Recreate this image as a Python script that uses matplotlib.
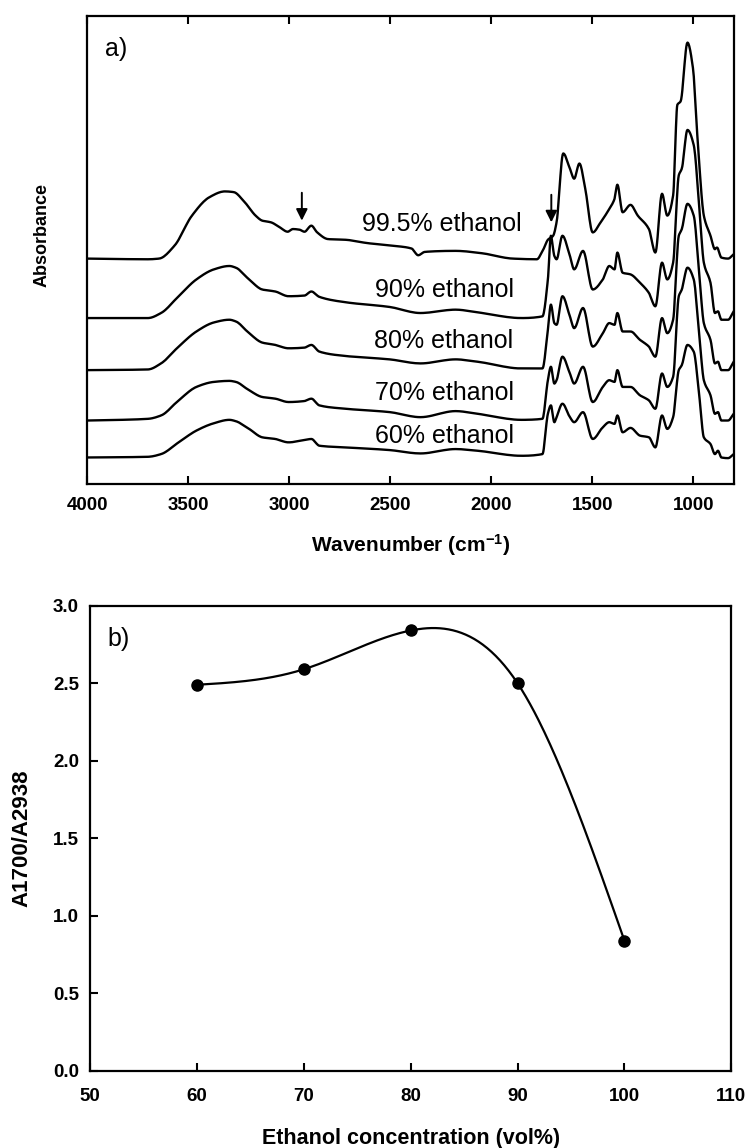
import numpy as np
import matplotlib
matplotlib.use("Agg")
from matplotlib import pyplot as plt

plt.rcParams['font.family'] = ['Liberation Sans', 'DejaVu Sans']
plt.rcParams['mathtext.fontset'] = 'custom'
plt.rcParams['mathtext.rm'] = 'Liberation Sans:bold'
plt.rcParams['mathtext.default'] = 'regular'

# ---- panel a: FTIR spectra (offset, arbitrary absorbance units) ----
wn_995 = [4000, 3700, 3645, 3569, 3482, 3395, 3319, 3276, 3221, 3167, 3134, 3091, 3047, 3008,
          2982, 2949, 2925, 2891, 2862, 2808, 2721, 2612, 2482, 2395, 2362, 2329, 2177, 2047,
          1894, 1775, 1742, 1720, 1694, 1677, 1644, 1611, 1590, 1564, 1535, 1498, 1459, 1416,
          1390, 1376, 1350, 1311, 1275, 1220, 1188, 1155, 1129, 1100, 1079, 1063, 1029, 1002,
          976, 948, 915, 893, 883, 861, 828, 800]
abs_995 = [6.72, 6.70, 6.72, 7.10, 8.00, 8.55, 8.72, 8.70, 8.40, 8.00, 7.85, 7.80, 7.65, 7.52,
           7.60, 7.58, 7.52, 7.70, 7.50, 7.30, 7.28, 7.18, 7.10, 7.02, 6.82, 6.92, 6.95, 6.88,
           6.72, 6.70, 7.00, 7.28, 7.40, 7.80, 9.85, 9.40, 9.10, 9.55, 8.80, 7.50, 7.80, 8.20,
           8.50, 8.92, 8.10, 8.32, 8.00, 7.60, 6.90, 8.65, 8.00, 8.60, 11.30, 11.40, 13.15, 12.40,
           10.00, 8.00, 7.40, 7.00, 7.05, 6.75, 6.72, 6.85]

wn_lower = [4000, 3700, 3635, 3548, 3460, 3373, 3297, 3265, 3199, 3134, 3069, 3004, 2925, 2891,
            2851, 2721, 2503, 2351, 2177, 2068, 1851, 1747, 1720, 1705, 1688, 1677, 1648, 1611,
            1590, 1546, 1498, 1448, 1416, 1390, 1376, 1350, 1311, 1264, 1220, 1188, 1155, 1129,
            1100, 1072, 1057, 1029, 998, 970, 948, 915, 893, 878, 861, 828, 800]
abs_90 = [4.95, 4.95, 5.10, 5.60, 6.10, 6.40, 6.50, 6.45, 6.10, 5.80, 5.74, 5.60, 5.62, 5.74,
          5.58, 5.42, 5.28, 5.10, 5.20, 5.12, 4.95, 5.00, 6.10, 7.40, 6.80, 6.70, 7.40, 6.80,
          6.40, 6.95, 5.80, 6.10, 6.50, 6.40, 6.90, 6.30, 6.25, 6.00, 5.70, 5.30, 6.60, 6.10,
          6.60, 9.20, 9.40, 10.55, 10.10, 8.20, 6.60, 6.00, 5.10, 5.15, 4.90, 4.90, 5.15]
abs_80 = [3.40, 3.42, 3.60, 4.10, 4.55, 4.82, 4.90, 4.85, 4.50, 4.22, 4.15, 4.05, 4.07, 4.15,
          3.95, 3.82, 3.72, 3.60, 3.72, 3.65, 3.45, 3.45, 4.60, 5.35, 4.80, 4.75, 5.60, 5.00,
          4.65, 5.25, 4.10, 4.50, 4.80, 4.75, 5.10, 4.55, 4.55, 4.30, 4.10, 3.80, 4.95, 4.50,
          4.90, 7.40, 7.60, 8.35, 8.00, 6.20, 4.80, 4.30, 3.60, 3.65, 3.40, 3.40, 3.65]
abs_70 = [1.90, 1.95, 2.05, 2.50, 2.90, 3.05, 3.08, 3.05, 2.80, 2.60, 2.55, 2.45, 2.48, 2.55,
          2.35, 2.25, 2.15, 2.00, 2.18, 2.10, 1.92, 1.95, 3.10, 3.50, 3.00, 3.10, 3.80, 3.30,
          3.00, 3.50, 2.45, 2.90, 3.10, 3.05, 3.40, 2.90, 2.90, 2.65, 2.50, 2.25, 3.30, 2.90,
          3.20, 5.60, 5.80, 6.45, 6.10, 4.40, 3.10, 2.65, 2.10, 2.15, 1.90, 1.90, 2.10]
abs_60 = [0.80, 0.82, 0.90, 1.25, 1.60, 1.82, 1.92, 1.88, 1.65, 1.40, 1.35, 1.25, 1.32, 1.35,
          1.15, 1.10, 1.02, 0.92, 1.05, 1.00, 0.85, 0.90, 2.10, 2.35, 1.85, 2.00, 2.40, 2.00,
          1.85, 2.15, 1.35, 1.70, 1.85, 1.80, 2.05, 1.55, 1.68, 1.45, 1.40, 1.10, 2.05, 1.65,
          2.00, 3.40, 3.55, 4.15, 3.95, 2.60, 1.40, 1.20, 0.90, 1.00, 0.80, 0.78, 0.90]

spec_labels = ["99.5% ethanol", "90% ethanol", "80% ethanol", "70% ethanol", "60% ethanol"]
label_wn = [1851, 1890, 1890, 1890, 1890]
label_abs = [7.75, 5.80, 4.28, 2.72, 1.45]
arrow_wn = [2938, 1703]
arrow_top = [8.68, 8.62]
arrow_tip = [7.85, 7.80]

# ---- panel b: band ratio vs ethanol concentration ----
conc = [60, 70, 80, 90, 100]
ratio = [2.49, 2.59, 2.84, 2.50, 0.84]


def natural_spline(x, y, n=300):
    # smooth connecting curve, like the spline line of the original plotting package
    x = np.asarray(x, float)
    y = np.asarray(y, float)
    h = np.diff(x)
    m = len(x)
    A = np.zeros((m, m))
    b = np.zeros(m)
    A[0, 0] = A[-1, -1] = 1
    for i in range(1, m - 1):
        A[i, i - 1] = h[i - 1]
        A[i, i] = 2 * (h[i - 1] + h[i])
        A[i, i + 1] = h[i]
        b[i] = 6 * ((y[i + 1] - y[i]) / h[i] - (y[i] - y[i - 1]) / h[i - 1])
    M = np.linalg.solve(A, b)
    xs = np.linspace(x[0], x[-1], n)
    idx = np.clip(np.searchsorted(x, xs) - 1, 0, m - 2)
    x0, x1, hh = x[idx], x[idx + 1], h[idx]
    ys = (M[idx] * (x1 - xs) ** 3 / (6 * hh) + M[idx + 1] * (xs - x0) ** 3 / (6 * hh)
          + (y[idx] / hh - M[idx] * hh / 6) * (x1 - xs)
          + (y[idx + 1] / hh - M[idx + 1] * hh / 6) * (xs - x0))
    return xs, ys


def smooth_line(x, y, per_seg=12):
    # monotone (pchip-style) curve through the read points, so peaks look rounded
    x = np.asarray(x, float)[::-1]
    y = np.asarray(y, float)[::-1]
    h = np.diff(x)
    delta = np.diff(y) / h
    d = np.zeros_like(y)
    d[0], d[-1] = delta[0], delta[-1]
    for k in range(1, len(x) - 1):
        if delta[k - 1] * delta[k] > 0:
            w1 = 2 * h[k] + h[k - 1]
            w2 = h[k] + 2 * h[k - 1]
            d[k] = (w1 + w2) / (w1 / delta[k - 1] + w2 / delta[k])
    xs, ys = [], []
    t = np.linspace(0, 1, per_seg, endpoint=False)
    for k in range(len(x) - 1):
        h00 = 2 * t ** 3 - 3 * t ** 2 + 1
        h10 = t ** 3 - 2 * t ** 2 + t
        h01 = -2 * t ** 3 + 3 * t ** 2
        h11 = t ** 3 - t ** 2
        xs.append(x[k] + t * h[k])
        ys.append(h00 * y[k] + h10 * h[k] * d[k] + h01 * y[k + 1] + h11 * h[k] * d[k + 1])
    xs.append([x[-1]])
    ys.append([y[-1]])
    return np.concatenate(xs), np.concatenate(ys)


fig = plt.figure(figsize=(7.52, 11.48), dpi=100)
ax1 = fig.add_axes([0.1161, 0.5781, 0.8596, 0.4082])
ax2 = fig.add_axes([0.1197, 0.0671, 0.8528, 0.4053])

# panel a
for wn, ab in [(wn_995, abs_995), (wn_lower, abs_90), (wn_lower, abs_80),
               (wn_lower, abs_70), (wn_lower, abs_60)]:
    sx, sy = smooth_line(wn, ab)
    ax1.plot(sx, sy, color='black', lw=1.7, solid_joinstyle='round')
for lab, xw, ya in zip(spec_labels, label_wn, label_abs):
    ax1.text(xw, ya, lab, fontsize=18, ha='right', va='center')
for xw, yt, yp in zip(arrow_wn, arrow_top, arrow_tip):
    ax1.annotate('', xy=(xw, yp), xytext=(xw, yt),
                 arrowprops=dict(arrowstyle='-|>', color='black', lw=1.4,
                                 mutation_scale=17, shrinkA=0, shrinkB=0))
ax1.set_xlim(4000, 800)
ax1.set_ylim(0, 13.95)
ax1.set_xticks([4000, 3500, 3000, 2500, 2000, 1500, 1000])
ax1.set_yticks([])
ax1.tick_params(axis='x', direction='in', top=True, length=6, width=1.5,
                labelsize=13.5, pad=9)
ax1.text(0.027, 0.955, 'a)', transform=ax1.transAxes, fontsize=18, ha='left', va='top')
ax1.set_xlabel(r'Wavenumber (cm$^{-1}$)', fontsize=15, fontweight='bold')
ax1.xaxis.set_label_coords(0.5, -0.13)
ax1.xaxis.label.set_va('center')
ax1.set_ylabel('Absorbance', fontsize=13, fontweight='bold')
ax1.yaxis.set_label_coords(-0.07, 0.532)
ax1.yaxis.label.set_va('center')

# panel b
xs, ys = natural_spline(conc, ratio)
ax2.plot(xs, ys, color='black', lw=1.6)
ax2.plot(conc, ratio, 'o', color='black', markersize=8)
ax2.set_xlim(50, 110)
ax2.set_ylim(0, 3.0)
ax2.set_xticks(range(50, 111, 10))
ax2.set_yticks(np.arange(0, 3.01, 0.5))
ax2.yaxis.set_major_formatter(matplotlib.ticker.FormatStrFormatter('%.1f'))
ax2.tick_params(axis='x', direction='in', length=6, width=1.5, labelsize=13.5, pad=12)
ax2.tick_params(axis='y', direction='in', length=6, width=1.5, labelsize=13.5, pad=8)
ax2.text(0.0265, 0.955, 'b)', transform=ax2.transAxes, fontsize=18, ha='left', va='top')
ax2.set_xlabel('Ethanol concentration (vol%)', fontsize=15.5, fontweight='bold')
ax2.xaxis.set_label_coords(0.5, -0.146)
ax2.xaxis.label.set_va('center')
ax2.set_ylabel('A1700/A2938', fontsize=16, fontweight='bold')
ax2.yaxis.set_label_coords(-0.106, 0.5)
ax2.yaxis.label.set_va('center')

for ax in (ax1, ax2):
    for sp in ax.spines.values():
        sp.set_linewidth(1.6)
    for lab in ax.get_xticklabels() + ax.get_yticklabels():
        lab.set_fontweight('bold')

fig.savefig('out.png', dpi=100)
